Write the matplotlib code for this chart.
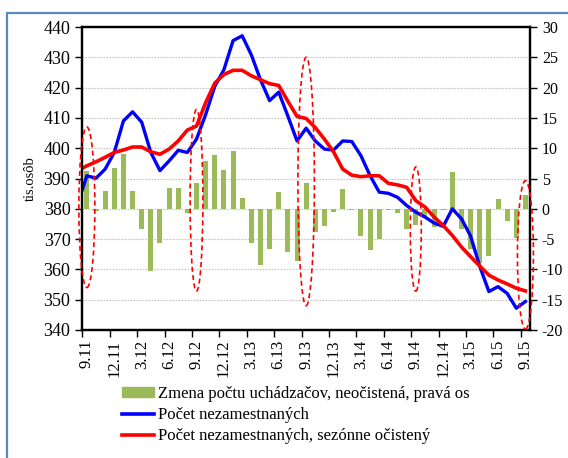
import numpy as np
import matplotlib
matplotlib.use("Agg")
import matplotlib.pyplot as plt
from matplotlib.patches import Ellipse, Rectangle
from matplotlib.lines import Line2D

plt.rcParams['font.family'] = ['Liberation Serif', 'DejaVu Serif']
plt.rcParams['axes.unicode_minus'] = False

# tick labels, every third month from 9.11 to 9.15
tick_labels = ["9.11", "12.11", "3.12", "6.12", "9.12", "12.12", "3.13", "6.13", "9.13",
               "12.13", "3.14", "6.14", "9.14", "12.14", "3.15", "6.15", "9.15"]

# change in job seekers, not adjusted (right axis), 9.11 .. 9.15
zmena = [6.3, -0.4, 3.0, 6.7, 9.1, 3.0, -3.3, -10.3, -5.6, 3.4,
         3.4, -0.7, 4.2, 7.9, 8.9, 6.4, 9.6, 1.7, -5.6, -9.2,
         -6.6, 2.8, -7.2, -8.6, 4.3, -3.8, -2.8, -0.5, 3.3, -0.2,
         -4.5, -6.8, -5.0, -0.2, -0.7, -3.3, -2.6, -1.6, -3.0, -0.2,
         6.0, -3.4, -6.7, -9.0, -7.8, 1.6, -2.0, -4.8, 2.2]

# unemployed (left axis), 8.11 .. 9.15 (8.11 is just outside the axis)
pocet = [381.7,
         390.9, 390.1, 393.1, 398.6, 409.0, 412.0, 408.6, 398.6, 392.6, 395.8,
         399.3, 398.6, 403.0, 411.1, 420.4, 425.9, 435.5, 437.1, 430.8, 422.6,
         415.7, 418.5, 410.6, 402.4, 406.6, 402.4, 399.7, 399.4, 402.4, 402.2,
         397.5, 390.9, 385.5, 385.1, 383.8, 381.1, 378.9, 377.3, 375.3, 374.2,
         380.0, 376.7, 371.0, 361.0, 352.7, 354.3, 352.1, 347.2, 349.4]

# unemployed, seasonally adjusted, 8.11 .. 9.15
pocet_sa = [392.6,
            394.2, 395.5, 397.0, 398.6, 399.4, 400.4, 400.4, 398.8, 398.0, 399.7,
            402.4, 406.0, 407.3, 415.0, 421.5, 424.3, 425.7, 425.7, 423.9, 422.6,
            421.3, 420.7, 415.5, 410.5, 409.8, 406.8, 403.0, 398.8, 393.1, 391.1,
            390.6, 390.9, 390.9, 388.4, 387.9, 387.1, 382.7, 380.6, 377.3, 374.5,
            371.2, 367.4, 364.2, 361.1, 358.1, 356.5, 355.2, 353.8, 352.9]

# highlighted Septembers: (month index, centre, height) on the left axis
kruhy = [(0, 380.5, 53), (12, 382.8, 60), (24, 389.0, 82), (36, 373.3, 41), (48, 364.8, 49)]
kruhy_sirka = [1.75, 1.4, 1.8, 1.2, 1.75]

n = len(zmena)
x = np.arange(n)
x_lin = np.arange(-1, n)

fig = plt.figure(figsize=(5.68, 4.58), dpi=100)
ax = fig.add_axes([82.3 / 568, 1 - 330 / 458, (530 - 82.3) / 568, (330 - 27) / 458])
ax2 = ax.twinx()
ax.set_zorder(ax2.get_zorder() + 1)
ax.patch.set_visible(False)

ax2.bar(x, zmena, width=0.55, color="#9BBB59", zorder=2)
ax2.set_ylim(-20, 30)
ax2.set_yticks(np.arange(-20, 31, 5))
ax2.yaxis.grid(True, color="#c4c4c4", linestyle=(0, (1.5, 1.2)), linewidth=0.8)
ax2.set_axisbelow(True)

ax.plot(x_lin, pocet, color="#0000FF", lw=2.4, solid_joinstyle="round")
ax.plot(x_lin, pocet_sa, color="#FF0000", lw=2.6, solid_joinstyle="round")
ax.set_ylim(340, 440)
ax.set_yticks(np.arange(340, 441, 10))
ax.set_xlim(-0.5, n - 0.5)

for (i, yc, h), w in zip(kruhy, kruhy_sirka):
    ax.add_patch(Ellipse((i, yc), w, h, fill=False, edgecolor="#FF0000",
                         linestyle=(0, (3, 2)), lw=1.2, clip_on=False, zorder=5))

# ticks on category boundaries, labels on category centres
ax.set_xticks(np.arange(-0.5, n, 3))
ax.set_xticklabels([])
ax.set_xticks(np.arange(0, n, 3), minor=True)
ax.set_xticklabels(tick_labels, minor=True, rotation=90, fontsize=12)
ax.tick_params(axis="x", which="major", length=5, width=1, direction="out")
ax.tick_params(axis="x", which="minor", length=0, pad=7)
ax.tick_params(axis="y", length=5, width=1, labelsize=13)
ax2.tick_params(axis="y", length=5, width=1, labelsize=11.5)
ax2.tick_params(axis="x", length=0)

for a in (ax, ax2):
    for s in a.spines.values():
        s.set_linewidth(1.6)
        s.set_color("black")

ax.set_ylabel("tis.osôb", fontsize=10.5, labelpad=5)

handles = [Rectangle((0, 0), 1, 1, color="#9BBB59"),
           Line2D([], [], color="#0000FF", lw=2.6),
           Line2D([], [], color="#FF0000", lw=2.6)]
labels = ["Zmena počtu uchádzačov, neočistená, pravá os",
          "Počet nezamestnaných",
          "Počet nezamestnaných, sezónne očistený"]
fig.legend(handles, labels, loc="upper left", bbox_to_anchor=(114 / 568, 1 - 378 / 458),
           frameon=False, fontsize=12, handlelength=1.9, handletextpad=0.25,
           labelspacing=0.3, borderpad=0, handleheight=0.55)

fig.add_artist(Rectangle((7.3 / 568, -0.1), 1.2, 1.1 - 13.3 / 458, transform=fig.transFigure,
                         fill=False, edgecolor="#5B87C5", lw=1.6))

fig.savefig("out.png", dpi=100)
